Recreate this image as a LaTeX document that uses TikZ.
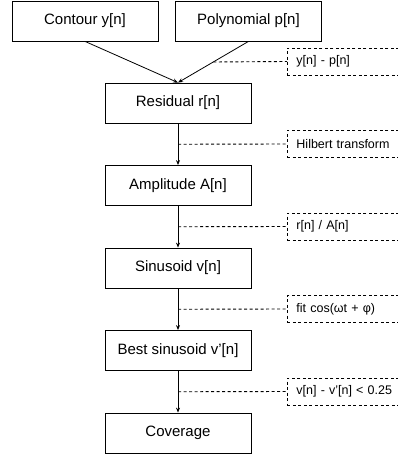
\documentclass[tikz,border=0pt]{standalone}
\usepackage{fontspec}
\setmainfont{Liberation Sans}
\usetikzlibrary{arrows.meta}

\begin{document}
\begin{tikzpicture}[x=1pt, y=-1pt, >={Stealth[length=5pt,width=4pt]},
  line width=0.8pt,
  b/.style={draw, line width=0.8pt, minimum width=146pt, minimum height=40pt,
    font=\fontsize{15}{18}\selectfont},
  ann/.style={draw, line width=0.9pt, dash pattern=on 3pt off 2.5pt, anchor=west, align=left,
    text width=118pt, inner xsep=9pt, minimum height=27pt,
    font=\fontsize{12.5}{15}\selectfont},
  lnk/.style={line width=0.9pt, dash pattern=on 3pt off 2.5pt}]
  \useasboundingbox (0,0) rectangle (398,457);
  \node[b] (cont) at (85,21)    {Contour y[n]};
  \node[b] (poly) at (248.5,21) {Polynomial p[n]};
  \node[b] (res)  at (178,103)  {Residual r[n]};
  \node[b] (amp)  at (178,185.5) {Amplitude A[n]};
  \node[b] (sin)  at (178,268)  {Sinusoid v[n]};
  \node[b] (best) at (178,350.5) {Best sinusoid v'[n]};
  \node[b] (cov)  at (178,433)  {Coverage};
  \draw[->] (cont.south) -- (res.north);
  \draw[->] (poly.south) -- (res.north) coordinate[midway] (m1);
  \draw[->] (res) -- (amp) coordinate[midway] (m2);
  \draw[->] (amp) -- (sin) coordinate[midway] (m3);
  \draw[->] (sin) -- (best) coordinate[midway] (m4);
  \draw[->] (best) -- (cov) coordinate[midway] (m5);
  \node[ann] (a1) at (287,61.5) {y[n] - p[n]};
  \node[ann] (a2) at (287,144)  {Hilbert transform};
  \node[ann] (a3) at (287,226.5) {r[n] / A[n]};
  \node[ann] (a4) at (287,309)  {fit cos(ωt + φ)};
  \node[ann] (a5) at (287,391.5) {v[n] - v'[n] < 0.25};
  \draw[lnk] (m1) -- (a1.west);
  \draw[lnk] (m2) -- (a2.west);
  \draw[lnk] (m3) -- (a3.west);
  \draw[lnk] (m4) -- (a4.west);
  \draw[lnk] (m5) -- (a5.west);
\end{tikzpicture}
\end{document}
